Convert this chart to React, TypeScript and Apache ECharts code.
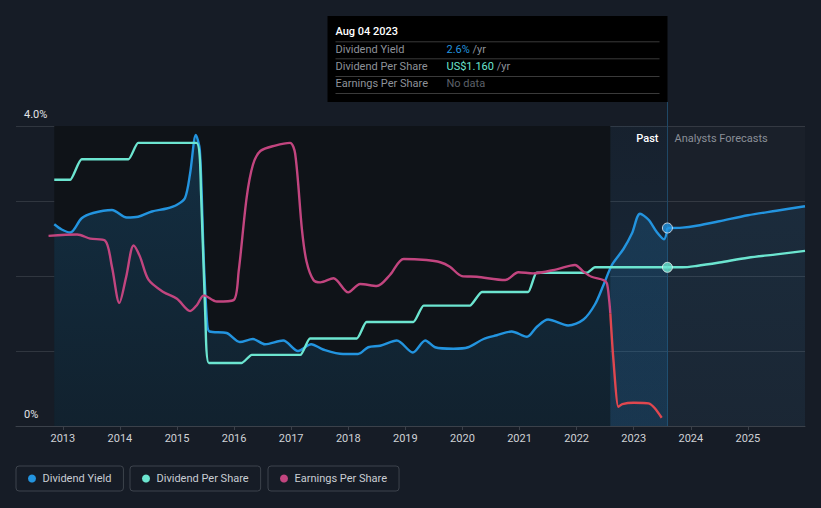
import React, { useEffect, useRef } from "react";
import * as echarts from "echarts";

// ---- axis / label data ----
const YEAR_TICKS = [2013, 2014, 2015, 2016, 2017, 2018, 2019, 2020, 2021, 2022, 2023, 2024, 2025];
const Y_TICKS = [0, 4];
const Y_TICK_LABELS = ["0%", "4.0%"];
const X_MIN = 2012.18;
const X_MAX = 2026.0;
const Y_MAX = 4;
const PER_SHARE_MAX = 2.193;
const DATA_START = 2012.85;
const BAND_START = 2022.59;
const PAST_END = 2023.59;

// ---- series data ----
const DIVIDEND_YIELD_PAST: [number, number][] = [
  [2012.85, 2.69], [2012.98, 2.62], [2013.13, 2.58], [2013.33, 2.77], [2013.53, 2.84],
  [2013.86, 2.88], [2014.12, 2.78], [2014.32, 2.79], [2014.56, 2.86], [2014.82, 2.9],
  [2015.0, 2.95], [2015.14, 3.04], [2015.23, 3.37], [2015.33, 3.88], [2015.4, 3.68],
  [2015.47, 2.2], [2015.53, 1.35], [2015.57, 1.26], [2015.87, 1.24], [2016.1, 1.12],
  [2016.33, 1.16], [2016.54, 1.09], [2016.86, 1.14], [2017.12, 1.0], [2017.35, 1.09],
  [2017.56, 1.02], [2017.91, 0.96], [2018.17, 0.96], [2018.35, 1.05], [2018.56, 1.07],
  [2018.85, 1.14], [2019.13, 0.98], [2019.35, 1.14], [2019.52, 1.05], [2019.84, 1.03],
  [2020.1, 1.05], [2020.37, 1.16], [2020.6, 1.21], [2020.86, 1.26], [2021.13, 1.19],
  [2021.3, 1.32], [2021.5, 1.42], [2021.85, 1.34], [2022.12, 1.42], [2022.32, 1.62],
  [2022.47, 1.88], [2022.62, 2.15], [2022.82, 2.36], [2022.97, 2.57], [2023.11, 2.83],
  [2023.26, 2.75], [2023.4, 2.59], [2023.53, 2.49], [2023.59, 2.64],
];
const DIVIDEND_YIELD_FORECAST: [number, number][] = [
  [2023.59, 2.64], [2023.85, 2.645], [2024.1, 2.67], [2024.5, 2.73], [2025.0, 2.81],
  [2025.5, 2.87], [2026.0, 2.93],
];
const DPS_PAST: [number, number][] = [
  [2012.85, 1.8], [2013.13, 1.8], [2013.33, 1.95], [2014.15, 1.95], [2014.32, 2.07],
  [2015.34, 2.07], [2015.42, 1.72], [2015.5, 0.75], [2015.56, 0.46], [2016.13, 0.46],
  [2016.31, 0.52], [2017.16, 0.52], [2017.33, 0.64], [2018.15, 0.64], [2018.32, 0.76],
  [2019.14, 0.76], [2019.32, 0.88], [2020.13, 0.88], [2020.34, 0.98], [2021.15, 0.98],
  [2021.3, 1.12], [2022.18, 1.12], [2022.32, 1.16], [2023.59, 1.16],
];
const DPS_FORECAST: [number, number][] = [
  [2023.59, 1.16], [2023.85, 1.16], [2024.1, 1.17], [2024.5, 1.195], [2025.0, 1.23],
  [2025.5, 1.255], [2026.0, 1.28],
];
const EPS_PAST: [number, number][] = [
  [2012.75, 1.39], [2013.25, 1.4], [2013.48, 1.37], [2013.74, 1.355], [2013.86, 1.165],
  [2013.99, 0.9], [2014.11, 1.09], [2014.24, 1.32], [2014.35, 1.24], [2014.5, 1.07],
  [2014.76, 0.98], [2015.0, 0.93], [2015.23, 0.84], [2015.35, 0.885], [2015.47, 0.955],
  [2015.7, 0.91], [2015.99, 0.92], [2016.08, 1.13], [2016.22, 1.67], [2016.33, 1.91],
  [2016.46, 2.01], [2016.72, 2.05], [2016.98, 2.07], [2017.07, 1.99], [2017.19, 1.43],
  [2017.27, 1.2], [2017.39, 1.067], [2017.51, 1.05], [2017.74, 1.08], [2018.0, 0.977],
  [2018.21, 1.038], [2018.5, 1.023], [2018.73, 1.104], [2018.97, 1.221], [2019.37, 1.213],
  [2019.61, 1.197], [2019.78, 1.164], [2019.99, 1.096], [2020.25, 1.091], [2020.75, 1.067],
  [2020.98, 1.124], [2021.24, 1.116], [2021.65, 1.145], [2021.97, 1.177], [2022.12, 1.128],
  [2022.26, 1.091], [2022.47, 1.067], [2022.53, 1.043], [2022.57, 0.92], [2022.59, 0.824],
];
const EPS_LOSS: [number, number][] = [
  [2022.59, 0.824], [2022.64, 0.507], [2022.73, 0.14], [2022.8, 0.16], [2023.0, 0.17],
  [2023.26, 0.165], [2023.37, 0.13], [2023.49, 0.06],
];

// ---- tooltip text ----
const TIP_DATE = "Aug 04 2023";
const TIP_LABELS = ["Dividend Yield", "Dividend Per Share", "Earnings Per Share"];
const TIP_VALUES = ["2.6%", "US$1.160", "No data"];
const TIP_UNITS = [" /yr", " /yr", ""];

const BLUE = "#2394df";
const TEAL = "#6ce5d0";
const PINK = "#c2457f";
const RED = "#e0474f";
const BG = "#161c26";
const FONT = 'Roboto, "Noto Sans", sans-serif';
const GREY = "#8e9299";
const LW = 2.4;

export default function App() {
  const ref = useRef<HTMLDivElement>(null);

  useEffect(() => {
    if (!ref.current) return;
    const chart = echarts.init(ref.current, null, { renderer: "svg" });

    const legendBase = {
      top: 466,
      orient: "horizontal",
      icon: "circle",
      itemWidth: 11,
      itemHeight: 8,
      padding: [7, 12, 7, 12],
      borderColor: "#3d434c",
      borderWidth: 1,
      borderRadius: 3,
      selectedMode: false,
      textStyle: { color: "#c9cdd3", fontSize: 11, fontFamily: FONT },
    };

    const lineBase = {
      type: "line",
      showSymbol: false,
      symbol: "none",
      smooth: 0.3,
      silent: true,
    };

    chart.setOption({
      animation: false,
      backgroundColor: BG,
      textStyle: { fontFamily: FONT },
      grid: { left: 16, right: 16, top: 126, bottom: 82 },
      xAxis: {
        type: "value",
        min: X_MIN,
        max: X_MAX,
        z: 1,
        axisLine: { show: true, lineStyle: { color: "#3b414a", width: 1 } },
        axisTick: { show: true, length: 4, customValues: YEAR_TICKS, lineStyle: { color: "#3b414a" } },
        axisLabel: {
          customValues: YEAR_TICKS,
          formatter: (v: number) => String(Math.round(v)),
          color: "#cfd2d6",
          fontSize: 11,
          margin: 7,
          fontFamily: FONT,
        },
        splitLine: { show: false },
      },
      yAxis: [
        {
          type: "value",
          min: 0,
          max: Y_MAX,
          interval: 1,
          z: 1,
          axisLine: { show: false },
          axisTick: { show: false },
          axisLabel: {
            inside: true,
            customValues: Y_TICKS,
            formatter: (v: number) => {
              const i = Y_TICKS.indexOf(Math.round(v));
              return i >= 0 ? Y_TICK_LABELS[i] : "";
            },
            color: "#e2e4e7",
            fontSize: 11,
            verticalAlign: "bottom",
            margin: 8,
            padding: [0, 0, 6, 0],
            fontFamily: FONT,
          },
          splitLine: { show: true, lineStyle: { color: "#30363f", width: 1 } },
        },
        { type: "value", min: 0, max: PER_SHARE_MAX, show: false },
      ],
      legend: [
        { ...legendBase, left: 16, data: ["Dividend Yield"] },
        { ...legendBase, left: 130, data: ["Dividend Per Share"] },
        { ...legendBase, left: 268, data: ["Earnings Per Share"] },
      ],
      series: [
        {
          type: "line",
          name: "bg",
          data: [[X_MAX, 0]],
          showSymbol: false,
          symbol: "none",
          lineStyle: { opacity: 0 },
          z: 0,
          silent: true,
          markArea: {
            silent: true,
            data: [
              [{ xAxis: DATA_START, yAxis: 0, itemStyle: { color: "#0f1318" } }, { xAxis: BAND_START, yAxis: Y_MAX }],
              [
                {
                  xAxis: BAND_START,
                  yAxis: 0,
                  itemStyle: {
                    color: new echarts.graphic.LinearGradient(0, 0, 0, 1, [
                      { offset: 0, color: "rgba(35,130,200,0.05)" },
                      { offset: 1, color: "rgba(35,130,200,0.14)" },
                    ]),
                  },
                },
                { xAxis: PAST_END, yAxis: Y_MAX },
              ],
              [{ xAxis: PAST_END, yAxis: 0, itemStyle: { color: "rgba(255,255,255,0.02)" } }, { xAxis: X_MAX, yAxis: Y_MAX }],
            ],
          },
        },
        {
          ...lineBase,
          name: "Dividend Yield",
          data: DIVIDEND_YIELD_PAST,
          color: BLUE,
          lineStyle: { color: BLUE, width: LW },
          areaStyle: {
            color: new echarts.graphic.LinearGradient(0, 0, 0, 1, [
              { offset: 0, color: "rgba(35,148,223,0.30)" },
              { offset: 1, color: "rgba(35,148,223,0.16)" },
            ]),
          },
          z: 2,
        },
        {
          ...lineBase,
          name: "Dividend Yield",
          data: DIVIDEND_YIELD_FORECAST,
          color: BLUE,
          lineStyle: { color: BLUE, width: LW },
          areaStyle: {
            color: new echarts.graphic.LinearGradient(0, 0, 0, 1, [
              { offset: 0, color: "rgba(35,148,223,0.14)" },
              { offset: 1, color: "rgba(35,148,223,0.08)" },
            ]),
          },
          z: 2,
        },
        {
          ...lineBase,
          name: "Dividend Per Share",
          yAxisIndex: 1,
          smooth: 0.15,
          data: DPS_PAST,
          color: TEAL,
          lineStyle: { color: TEAL, width: LW },
          z: 3,
        },
        {
          ...lineBase,
          name: "Dividend Per Share",
          yAxisIndex: 1,
          data: DPS_FORECAST,
          color: TEAL,
          lineStyle: { color: TEAL, width: LW },
          z: 3,
        },
        {
          ...lineBase,
          name: "Earnings Per Share",
          yAxisIndex: 1,
          data: EPS_PAST,
          color: PINK,
          lineStyle: { color: PINK, width: LW },
          z: 4,
        },
        {
          ...lineBase,
          name: "Earnings Per Share",
          yAxisIndex: 1,
          smooth: 0.2,
          data: EPS_LOSS,
          color: PINK,
          lineStyle: { color: RED, width: LW },
          z: 4,
        },
        {
          type: "scatter",
          name: "yieldMarker",
          data: [DIVIDEND_YIELD_PAST[DIVIDEND_YIELD_PAST.length - 1]],
          symbolSize: 10,
          itemStyle: { color: BLUE, borderColor: "#e8eef5", borderWidth: 1 },
          z: 6,
          silent: true,
        },
        {
          type: "scatter",
          name: "dpsMarker",
          yAxisIndex: 1,
          data: [DPS_PAST[DPS_PAST.length - 1]],
          symbolSize: 10,
          itemStyle: { color: TEAL, borderColor: "#e8f5f2", borderWidth: 1 },
          z: 6,
          silent: true,
        },
      ],
    });

    const p = chart.convertToPixel({ gridIndex: 0 }, [PAST_END, Y_MAX]) as number[];
    const base = chart.convertToPixel({ gridIndex: 0 }, [PAST_END, 0]) as number[];
    const lx = Math.round(p[0]) + 0.5;
    const top = p[1];
    const bottom = base[1];
    const boxW = 340;
    const boxX = lx - boxW;
    const boxY = 16;
    const boxH = 86;

    const rowY = [33.3, 50, 67.7];
    const sepY = [25.3, 42.3, 60, 77];
    const valColors = [BLUE, TEAL, "#5d6169"];

    const tipChildren: any[] = [
      { type: "rect", shape: { x: 0, y: 0, width: boxW, height: boxH }, style: { fill: "#000" } },
      {
        type: "text",
        x: 8,
        y: 15,
        style: { text: TIP_DATE, fill: "#ffffff", font: `500 11px ${FONT}`, verticalAlign: "middle" },
      },
    ];
    sepY.forEach((sy) => {
      tipChildren.push({
        type: "line",
        shape: { x1: 8, y1: sy + 0.5, x2: 332, y2: sy + 0.5 },
        style: { stroke: "#3a3a3a", lineWidth: 1 },
      });
    });
    TIP_LABELS.forEach((lab, i) => {
      tipChildren.push({
        type: "text",
        x: 8,
        y: rowY[i],
        style: { text: lab, fill: GREY, font: `11px ${FONT}`, verticalAlign: "middle" },
      });
      tipChildren.push({
        type: "text",
        x: 119,
        y: rowY[i],
        style: {
          text: `{v|${TIP_VALUES[i]}}{u|${TIP_UNITS[i]}}`,
          verticalAlign: "middle",
          rich: {
            v: { fill: valColors[i], fontSize: 11, fontFamily: FONT },
            u: { fill: GREY, fontSize: 11, fontFamily: FONT },
          },
        },
      });
    });

    chart.setOption({
      graphic: [
        {
          type: "line",
          z: 1,
          silent: true,
          shape: { x1: lx, y1: boxY + boxH, x2: lx, y2: bottom },
          style: { stroke: "#1f4866", lineWidth: 1 },
        },
        {
          type: "text",
          z: 10,
          x: lx - 9,
          y: top + 12,
          style: { text: "Past", fill: "#ffffff", font: `500 11px ${FONT}`, align: "right", verticalAlign: "middle" },
        },
        {
          type: "text",
          z: 10,
          x: lx + 7,
          y: top + 12,
          style: { text: "Analysts Forecasts", fill: "#8a8f98", font: `11px ${FONT}`, align: "left", verticalAlign: "middle" },
        },
        { type: "group", x: boxX, y: boxY, z: 20, children: tipChildren },
      ],
    });

    return () => chart.dispose();
  }, []);

  return (
    <div
      ref={ref}
      style={{ position: "absolute", left: 0, top: 0, width: 821, height: 508 }}
    />
  );
}
